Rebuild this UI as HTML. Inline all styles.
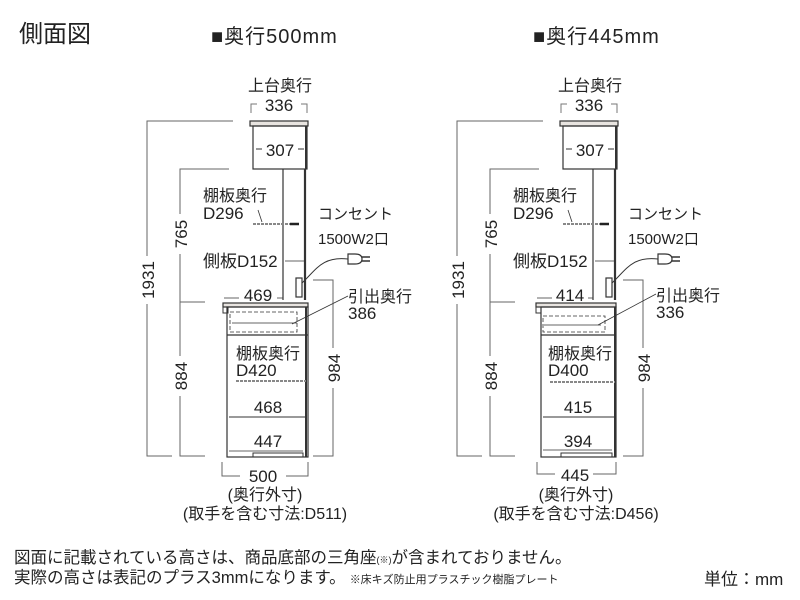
<!DOCTYPE html>
<html><head><meta charset="utf-8"><style>
html,body{margin:0;padding:0;background:#fff;width:800px;height:600px;overflow:hidden}
svg{display:block}
text{font-family:"Liberation Sans","Noto Sans CJK JP",sans-serif;fill:#222}
</style></head><body>
<svg width="800" height="600" viewBox="0 0 800 600" xmlns="http://www.w3.org/2000/svg">
<text x="19" y="42" font-size="24">側面図</text>
<text x="211" y="43" font-size="20" letter-spacing="1">■奥行500mm</text>
<text x="533" y="43" font-size="20" letter-spacing="1">■奥行445mm</text>

<defs>
<g id="top" stroke="#333" fill="none">
  <text x="280" y="91" font-size="16" text-anchor="middle" stroke="none">上台奥行</text>
  <text x="279" y="111" font-size="17" text-anchor="middle" stroke="none">336</text>
  <path d="M251 113 V104 H257 M301 104 H307 V113" stroke-width="1" stroke="#777"/>
  <rect x="250" y="121" width="58" height="5" fill="#e8e4e0" stroke-width="1.2"/>
  <rect x="253" y="126" width="54" height="43" stroke-width="1.2"/>
  <line x1="306" y1="126" x2="306" y2="169" stroke-width="2"/>
  <text x="280" y="156" font-size="17" text-anchor="middle" stroke="none">307</text>
  <path d="M256 149 H262 M298 149 H304" stroke-width="1"/>
  <line x1="283" y1="169" x2="283" y2="300" stroke-width="1.2"/>
  <line x1="305" y1="169" x2="305" y2="300" stroke-width="2.2"/>
  <line x1="253" y1="224" x2="290" y2="224" stroke="#888" stroke-width="2" stroke-dasharray="3,1"/>
  <line x1="290" y1="224" x2="299" y2="224" stroke="#222" stroke-width="2.5"/>
  <line x1="258" y1="210" x2="262" y2="222" stroke-width="0.8"/>
  <text x="203" y="201" font-size="16" stroke="none">棚板奥行</text>
  <text x="203" y="219" font-size="17" stroke="none">D296</text>
  <text x="203" y="267" font-size="17" stroke="none">側板D152</text>
  <line x1="285" y1="261" x2="304" y2="261" stroke-width="0.8"/>
  <rect x="296" y="278" width="6" height="19" stroke-width="1.2"/>
  <path d="M302 283 C316 270 322 256 348 259" stroke-width="1"/>
  <path d="M348 254 H355 Q362 254 362 259 Q362 264 355 264 H348 Z" stroke-width="1.2"/>
  <path d="M362 257 H370 M362 261 H370" stroke-width="1.6"/>
  <text x="318" y="219" font-size="15" stroke="none">コンセント</text>
  <text x="318" y="244" font-size="15" stroke="none">1500W2口</text>
  <path d="M233 121 H147 V456 H172" stroke="#666" stroke-width="1"/>
  <path d="M229 169 H180 V456 H205" stroke="#666" stroke-width="1"/>
  <rect x="139" y="256" width="16" height="48" fill="#fff" stroke="none"/>
  <text transform="translate(154,280) rotate(-90)" font-size="17" text-anchor="middle" stroke="none">1931</text>
  <rect x="172" y="214" width="16" height="40" fill="#fff" stroke="none"/>
  <text transform="translate(187,234) rotate(-90)" font-size="17" text-anchor="middle" stroke="none">765</text>
  <rect x="172" y="356" width="16" height="40" fill="#fff" stroke="none"/>
  <text transform="translate(187,376) rotate(-90)" font-size="17" text-anchor="middle" stroke="none">884</text>
  <line x1="180" y1="302" x2="205" y2="302" stroke="#666" stroke-width="1"/>
  <path d="M313 280 H333 V456 H313" stroke="#666" stroke-width="1"/>
  <rect x="325" y="348" width="16" height="40" fill="#fff" stroke="none"/>
  <text transform="translate(340,368) rotate(-90)" font-size="17" text-anchor="middle" stroke="none">984</text>
</g>
</defs>

<use href="#top"/>
<g stroke="#333" fill="none">
  <line x1="224" y1="298" x2="283" y2="298" stroke-width="0.8"/>
  <rect x="239" y="285" width="38" height="17" fill="#fff" stroke="none"/>
  <text x="258" y="301" font-size="17" text-anchor="middle" stroke="none">469</text>
  <rect x="223" y="303" width="85" height="4" fill="#e8e4e0" stroke-width="1.2"/>
  <rect x="223" y="307" width="5" height="6" stroke-width="1"/>
  <rect x="227" y="307" width="81" height="150" stroke-width="1.2"/>
  <line x1="306" y1="307" x2="306" y2="457" stroke-width="2"/>
  <line x1="227" y1="335" x2="308" y2="335" stroke-width="1.2"/>
  <rect x="230" y="312" width="67" height="20" stroke-dasharray="4,2" stroke-width="0.8"/>
  <line x1="232" y1="323" x2="297" y2="323" stroke-width="0.8"/>
  <line x1="292" y1="324" x2="348" y2="296" stroke-width="0.8"/>
  <text x="348" y="302" font-size="16" stroke="none">引出奥行</text>
  <text x="348" y="319" font-size="17" stroke="none">386</text>
  <text x="236" y="359" font-size="16" stroke="none">棚板奥行</text>
  <text x="236" y="376" font-size="17" stroke="none">D420</text>
  <line x1="236" y1="381" x2="306" y2="381" stroke="#888" stroke-width="2" stroke-dasharray="3,1"/>
  <text x="268" y="413" font-size="17" text-anchor="middle" stroke="none">468</text>
  <line x1="229" y1="417" x2="306" y2="417" stroke-width="1"/>
  <text x="268" y="447" font-size="17" text-anchor="middle" stroke="none">447</text>
  <line x1="229" y1="451" x2="303" y2="451" stroke-width="0.8"/>
  <rect x="253" y="453" width="50" height="4" stroke-width="1"/>
  <path d="M222 462 V476 H240 M286 476 H308 V462" stroke="#666" stroke-width="1"/>
  <text x="263" y="482" font-size="17" text-anchor="middle" stroke="none">500</text>
</g>
<text x="265" y="500" font-size="16" text-anchor="middle">(奥行外寸)</text>
<text x="265" y="519" font-size="16" text-anchor="middle">(取手を含む寸法:D511)</text>

<use href="#top" transform="translate(310,0)"/>
<g stroke="#333" fill="none">
  <line x1="537" y1="298" x2="593" y2="298" stroke-width="0.8"/>
  <rect x="552" y="285" width="36" height="17" fill="#fff" stroke="none"/>
  <text x="570" y="301" font-size="17" text-anchor="middle" stroke="none">414</text>
  <rect x="536" y="303" width="80" height="4" fill="#e8e4e0" stroke-width="1.2"/>
  <rect x="536" y="307" width="5" height="6" stroke-width="1"/>
  <rect x="541" y="307" width="75" height="150" stroke-width="1.2"/>
  <line x1="615" y1="307" x2="615" y2="457" stroke-width="2"/>
  <line x1="541" y1="335" x2="616" y2="335" stroke-width="1.2"/>
  <rect x="543" y="316" width="62" height="16" stroke-dasharray="4,2" stroke-width="0.8"/>
  <line x1="544" y1="325" x2="601" y2="325" stroke-width="0.8"/>
  <line x1="598" y1="325" x2="656" y2="294" stroke-width="0.8"/>
  <text x="656" y="301" font-size="16" stroke="none">引出奥行</text>
  <text x="656" y="318" font-size="17" stroke="none">336</text>
  <text x="548" y="359" font-size="16" stroke="none">棚板奥行</text>
  <text x="548" y="376" font-size="17" stroke="none">D400</text>
  <line x1="550" y1="382" x2="615" y2="382" stroke="#888" stroke-width="2" stroke-dasharray="3,1"/>
  <text x="578" y="413" font-size="17" text-anchor="middle" stroke="none">415</text>
  <line x1="543" y1="417" x2="615" y2="417" stroke-width="1"/>
  <text x="578" y="447" font-size="17" text-anchor="middle" stroke="none">394</text>
  <line x1="543" y1="450" x2="612" y2="450" stroke-width="0.8"/>
  <rect x="561" y="453" width="51" height="4" stroke-width="1"/>
  <path d="M537 462 V474 H555 M593 474 H616 V462" stroke="#666" stroke-width="1"/>
  <text x="575" y="481" font-size="17" text-anchor="middle" stroke="none">445</text>
</g>
<text x="576" y="500" font-size="16" text-anchor="middle">(奥行外寸)</text>
<text x="576" y="519" font-size="16" text-anchor="middle">(取手を含む寸法:D456)</text>

<text x="14" y="563" font-size="16.5">図面に記載されている高さは、商品底部の三角座<tspan font-size="9">(※)</tspan>が含まれておりません。</text>
<text x="14" y="583" font-size="16.5">実際の高さは表記のプラス3mmになります。<tspan font-size="11" dx="4">※床キズ防止用プラスチック樹脂プレート</tspan></text>
<text x="704" y="585" font-size="17">単位：mm</text>
</svg>
</body></html>
